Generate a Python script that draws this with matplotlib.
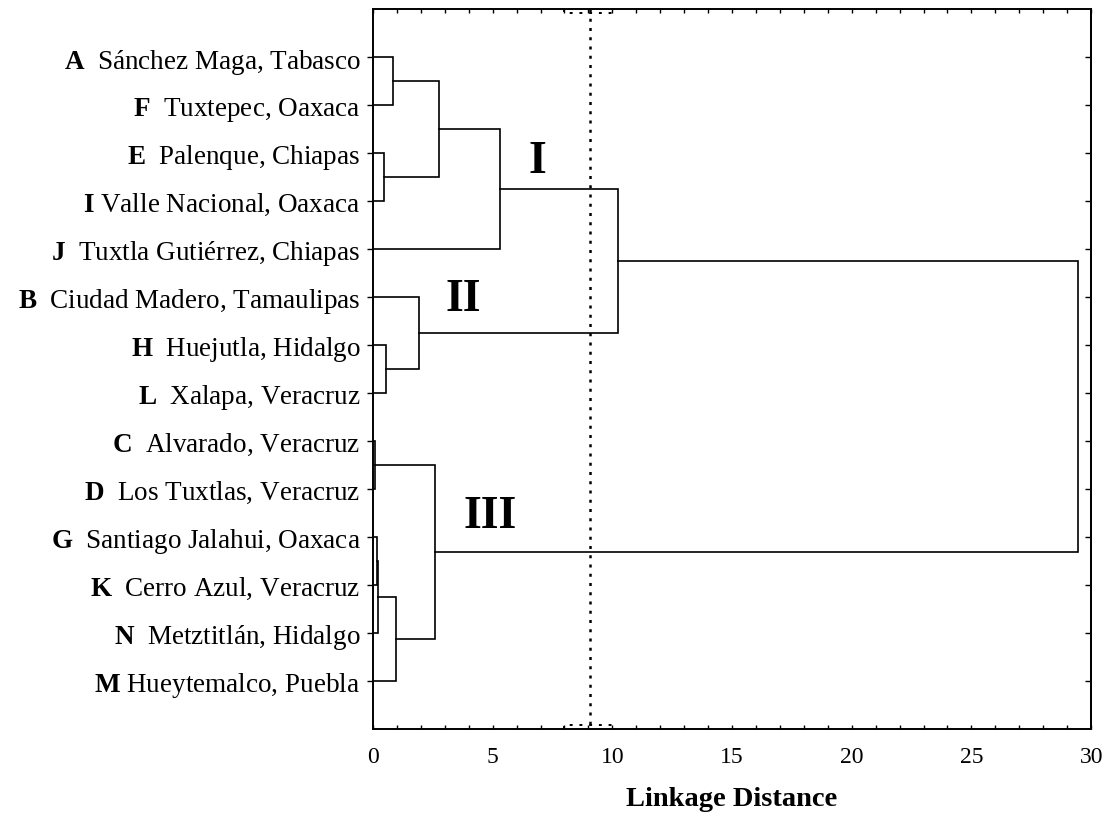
import matplotlib.pyplot as plt
import numpy as np

plt.rcParams['font.family'] = ['Liberation Serif', 'DejaVu Serif']
plt.rcParams['mathtext.fontset'] = 'custom'
plt.rcParams['mathtext.rm'] = 'Liberation Serif'
plt.rcParams['mathtext.bf'] = 'Liberation Serif:bold'

# -----------------------------
# DATA
# -----------------------------
codes = ["A", "F", "E", "I", "J", "B", "H", "L", "C", "D", "G", "K", "N", "M"]
sites = ["Sánchez Maga, Tabasco", "Tuxtepec, Oaxaca", "Palenque, Chiapas",
         "Valle Nacional, Oaxaca", "Tuxtla Gutiérrez, Chiapas",
         "Ciudad Madero, Tamaulipas", "Huejutla, Hidalgo", "Xalapa, Veracruz",
         "Alvarado, Veracruz", "Los Tuxtlas, Veracruz",
         "Santiago Jalahui, Oaxaca", "Cerro Azul, Veracruz",
         "Metztitlán, Hidalgo", "Hueytemalco, Puebla"]

# merges: (node a, node b, linkage distance); new node ids start at 14
merge_a = [0, 2, 14, 16, 6, 5, 17, 8, 10, 22, 23, 21, 20]
merge_b = [1, 3, 15, 4, 7, 18, 19, 9, 11, 12, 13, 24, 25]
merge_h = [0.84, 0.46, 2.74, 5.31, 0.54, 1.92, 10.24, 0.08, 0.17, 0.21, 0.96, 2.59, 29.46]

cut_distance = 9.07
cluster_names = ["I", "II", "III"]
cluster_x = [6.85, 3.76, 4.89]
cluster_y = [2.17, 5.04, 9.56]

# -----------------------------
# PLOT
# -----------------------------
fig = plt.figure(figsize=(11.1, 8.2), dpi=100)
ax = fig.add_axes([0.336, 0.1098, 0.647, 0.878])

n = len(codes)
node_y = list(range(n))
node_h = [0.0] * n
for a, b, h in zip(merge_a, merge_b, merge_h):
    ya, yb = node_y[a], node_y[b]
    ax.plot([node_h[a], h, h, node_h[b]], [ya, ya, yb, yb],
            color="black", lw=1.2, solid_joinstyle="miter")
    node_y.append((ya + yb) / 2)
    node_h.append(h)

# cut line and small dotted box marks
ax.plot([cut_distance, cut_distance], [-1, 14], color="black", lw=1.8,
        linestyle=(0, (1.2, 2.5)))
for y0, y1 in [(-1, -0.92), (14, 13.92)]:
    ax.plot([8, 8, 10, 10], [y0, y1, y1, y0], color="black", lw=1.4,
            linestyle=(0, (1.5, 3.5)), clip_on=False)

for name, cx, cy in zip(cluster_names, cluster_x, cluster_y):
    ax.text(cx, cy, name, fontsize=33, fontweight="bold", ha="center", va="center")

ax.set_xlim(0, 30)
ax.set_ylim(14, -1)

ax.set_yticks(range(n))
ax.set_yticklabels([r"$\mathbf{%s}$%s%s" % (c, " " if c in ("I", "M") else "  ", s)
                    for c, s in zip(codes, sites)], fontsize=19.5)
ax.set_xticks(np.arange(0, 31, 5))
ax.set_xticks(np.arange(0, 31, 1), minor=True)
ax.tick_params(axis="x", which="both", direction="in", top=True, length=3,
               width=1, labelsize=17, pad=12)
ax.tick_params(axis="y", which="major", direction="out", length=4, width=1, pad=5)

ax2 = ax.secondary_yaxis("right")
ax2.set_yticks(range(n))
ax2.set_yticklabels([])
ax2.tick_params(direction="in", length=4, width=1)
ax2.spines["right"].set_linewidth(1.4)

for sp in ax.spines.values():
    sp.set_linewidth(1.4)

ax.set_xlabel("Linkage Distance", fontsize=20.5, fontweight="bold", labelpad=14)

plt.savefig("out.png", dpi=100)
